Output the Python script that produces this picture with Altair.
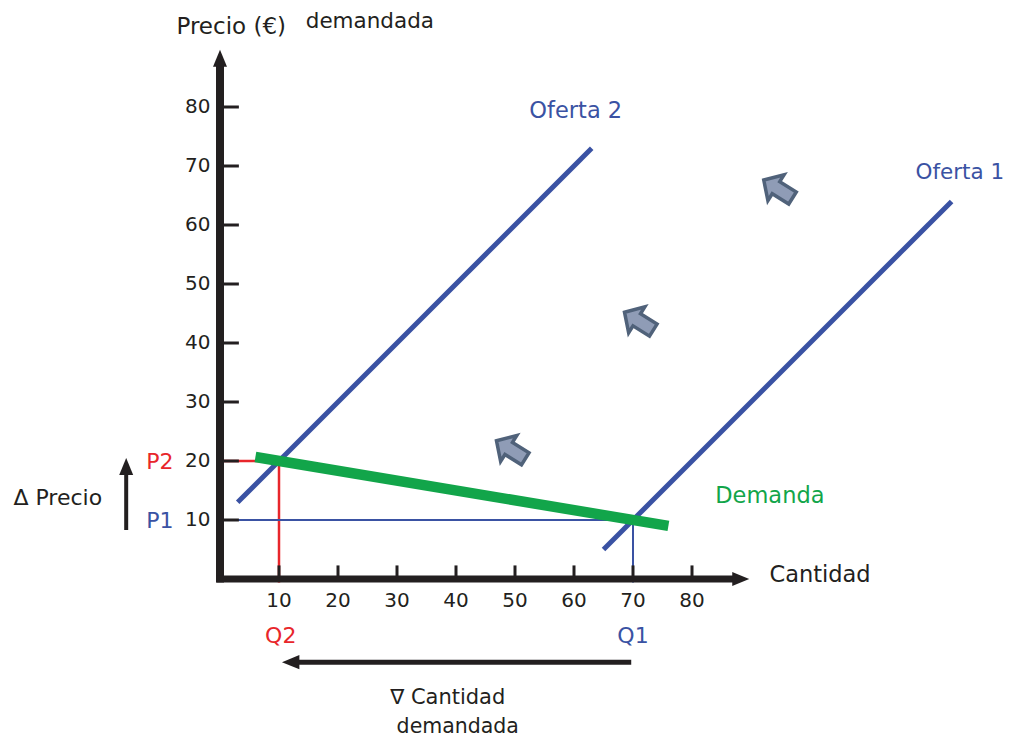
import altair as alt
import pandas as pd

# ---------------- data ----------------
tick_values = [10, 20, 30, 40, 50, 60, 70, 80]
tick_labels = ["10", "20", "30", "40", "50", "60", "70", "80"]

oferta1_q = [65, 124]
oferta1_p = [5, 64]
oferta2_q = [3, 63]
oferta2_p = [13, 73]
demanda_q = [6, 76]
demanda_p = [20.67, 9]

eq1_q, eq1_p = 70, 10   # Q1, P1
eq2_q, eq2_p = 10, 20   # Q2, P2

shift_arrow_q = [49.3, 71.0, 94.6]
shift_arrow_p = [21.9, 43.7, 66.1]

# ---------------- layout ----------------
W, H = 999, 732
PX = 5.9              # pixels per unit
OX, OY = 212, 571     # origin inside the view
XDOM = [-OX / PX, (W - OX) / PX]
YDOM = [-(H - OY) / PX, OY / PX]

BLACK = "#231f20"
BLUE = "#3a52a3"
RED = "#e8262b"
GREEN = "#12a54a"
FONT = "DejaVu Sans"


def X(f="x"):
    return alt.X(f"{f}:Q", scale=alt.Scale(domain=XDOM, nice=False, zero=False), axis=None)


def Y(f="y"):
    return alt.Y(f"{f}:Q", scale=alt.Scale(domain=YDOM, nice=False, zero=False), axis=None)


def seg(x1, y1, x2, y2, color, width, cap="butt"):
    df = pd.DataFrame({"x": [x1], "y": [y1], "x2": [x2], "y2": [y2]})
    return alt.Chart(df).mark_rule(color=color, strokeWidth=width, strokeCap=cap).encode(
        x=X(), y=Y(), x2="x2:Q", y2="y2:Q")


def txt(x, y, s, color=BLACK, size=22, align="center"):
    df = pd.DataFrame({"x": [x], "y": [y], "t": [s]})
    return alt.Chart(df).mark_text(color=color, fontSize=size, font=FONT, align=align,
                                   baseline="middle").encode(x=X(), y=Y(), text="t:N")


UP = "M0,0 L-0.7,1.7 L0.7,1.7 Z"
RIGHT = "M0,0 L-1.7,-0.7 L-1.7,0.7 Z"
LEFT = "M0,0 L1.7,-0.7 L1.7,0.7 Z"


def head(x, y, path, size=400, color=BLACK):
    df = pd.DataFrame({"x": [x], "y": [y]})
    return alt.Chart(df).mark_point(shape=path, size=size, filled=True, fill=color,
                                    strokeWidth=0, opacity=1).encode(x=X(), y=Y())


layers = []

# guide lines (equilibria)
layers.append(seg(0.4, eq2_p, eq2_q, eq2_p, RED, 2.5))
layers.append(seg(eq2_q, eq2_p, eq2_q, -0.6, RED, 2.5))
layers.append(seg(0.4, eq1_p, eq1_q, eq1_p, BLUE, 2))
layers.append(seg(eq1_q, eq1_p, eq1_q, -0.6, BLUE, 2))

# curves
layers.append(seg(oferta2_q[0], oferta2_p[0], oferta2_q[1], oferta2_p[1], BLUE, 5))
layers.append(seg(oferta1_q[0], oferta1_p[0], oferta1_q[1], oferta1_p[1], BLUE, 5))
layers.append(seg(demanda_q[0], demanda_p[0], demanda_q[1], demanda_p[1], GREEN, 10.5))

# axes
layers.append(seg(0, -0.6, 0, 87.2, BLACK, 8))
layers.append(seg(-0.6, 0, 87.2, 0, BLACK, 7))
layers.append(head(0, 89.7, UP))
layers.append(head(89.7, 0, RIGHT))

ticks = pd.DataFrame({"v": tick_values, "lab": tick_labels})
layers.append(alt.Chart(ticks).transform_calculate(a="0.3", b="2.3").mark_rule(
    color=BLACK, strokeWidth=3).encode(x=X("v"), y=Y("a"), y2="b:Q"))
layers.append(alt.Chart(ticks).transform_calculate(a="0.5", b="3.2").mark_rule(
    color=BLACK, strokeWidth=3).encode(y=Y("v"), x=X("a"), x2="b:Q"))
layers.append(alt.Chart(ticks).transform_calculate(yy="-3.7").mark_text(
    color=BLACK, fontSize=20, font=FONT, align="center", baseline="middle").encode(
    x=X("v"), y=Y("yy"), text="lab:N"))
layers.append(alt.Chart(ticks).transform_calculate(xx="-1.6").mark_text(
    color=BLACK, fontSize=20, font=FONT, align="right", baseline="middle").encode(
    y=Y("v"), x=X("xx"), text="lab:N"))

# shift arrows (block arrows)
arr = pd.DataFrame({"q": shift_arrow_q, "p": shift_arrow_p})
BLOCK = "M-1,0 L-0.15,-0.9 L-0.15,-0.42 L1,-0.42 L1,0.42 L-0.15,0.42 L-0.15,0.9 Z"
layers.append(alt.Chart(arr).mark_point(shape=BLOCK, size=1150, angle=32, filled=True,
                                        fill="#8f9cb6", stroke="#50627a", strokeWidth=3.5,
                                        opacity=1).encode(x=X("q"), y=Y("p")))

# delta price arrow
layers.append(seg(-15.9, 8.3, -15.9, 17.8, BLACK, 4))
layers.append(head(-15.9, 20.5, UP))
# quantity arrow
layers.append(seg(69.7, -14.1, 13.3, -14.1, BLACK, 5))
layers.append(head(10.5, -14.1, LEFT, size=420))

# texts
layers.append(txt(1.9, 93.6, "Precio (€)", size=23))
layers.append(txt(25.4, 94.4, "demandada", size=21.5))
layers.append(txt(60.3, 79.3, "Oferta 2", BLUE, size=22.5))
layers.append(txt(125.4, 68.8, "Oferta 1", BLUE, size=21.5))
layers.append(txt(93.2, 14.1, "Demanda", GREEN, size=22.5))
layers.append(txt(101.7, 0.7, "Cantidad", size=22.5))
layers.append(txt(-10.2, 19.8, "P2", RED))
layers.append(txt(-10.2, 9.8, "P1", BLUE))
layers.append(txt(-27.5, 13.7, "Δ Precio"))
layers.append(txt(10.3, -9.7, "Q2", RED))
layers.append(txt(70.0, -9.7, "Q1", BLUE))
layers.append(txt(38.6, -20.2, "∇ Cantidad", size=21))
layers.append(txt(40.3, -25.0, "demandada", size=20.5))

chart = alt.layer(*layers).properties(
    width=W, height=H, padding=0,
    autosize=alt.AutoSizeParams(type="none"),
    background="white",
).configure_view(strokeWidth=0)

chart.save("out.html", embed_options={"renderer": "svg", "actions": False})
